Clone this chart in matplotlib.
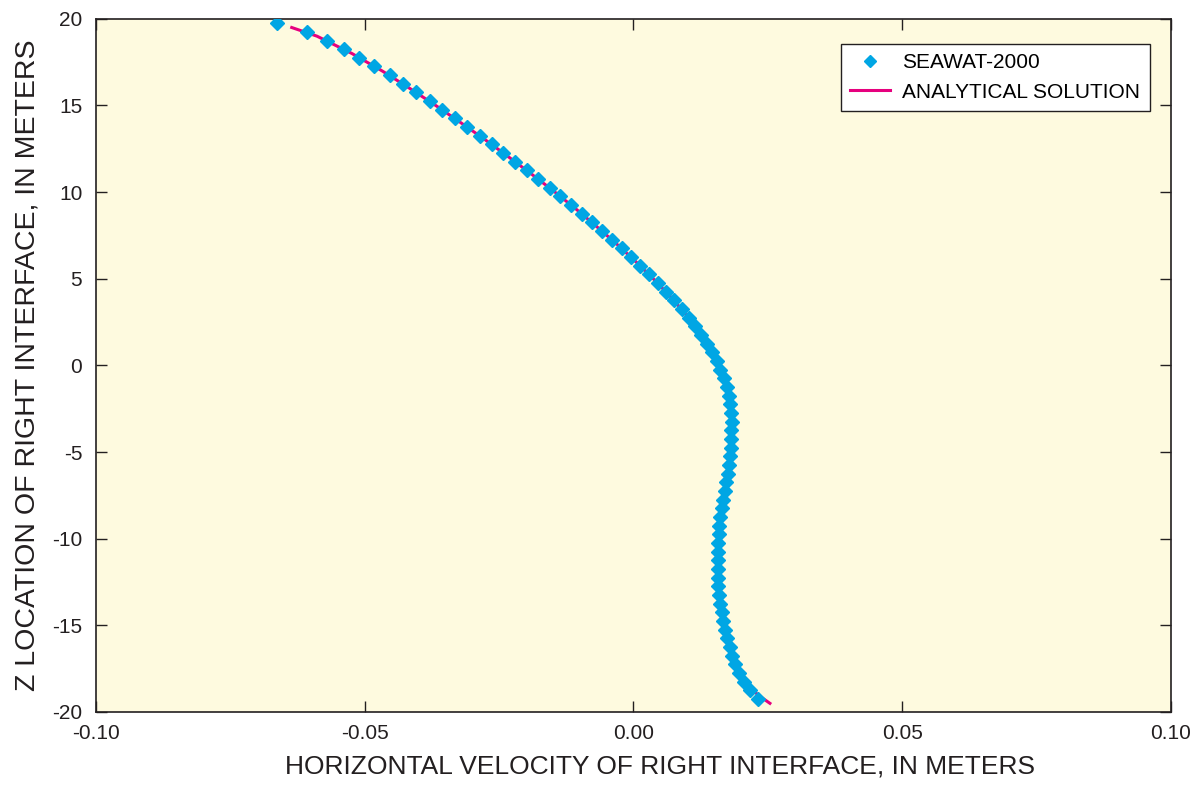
import matplotlib
matplotlib.use("Agg")
import matplotlib.pyplot as plt

plt.rcParams["font.family"] = ["Liberation Sans", "DejaVu Sans"]
plt.rcParams["axes.unicode_minus"] = False

# SEAWAT-2000 simulated velocities (points)
seawat_z = [19.75, 19.25, 18.75, 18.25, 17.75, 17.25, 16.75, 16.25, 15.75, 15.25,
            14.75, 14.25, 13.75, 13.25, 12.75, 12.25, 11.75, 11.25, 10.75, 10.25,
            9.75, 9.25, 8.75, 8.25, 7.75, 7.25, 6.75, 6.25, 5.75, 5.25,
            4.75, 4.25, 3.75, 3.25, 2.75, 2.25, 1.75, 1.25, 0.75, 0.25,
            -0.25, -0.75, -1.25, -1.75, -2.25, -2.75, -3.25, -3.75, -4.25, -4.75,
            -5.25, -5.75, -6.25, -6.75, -7.25, -7.75, -8.25, -8.75, -9.25, -9.75,
            -10.25, -10.75, -11.25, -11.75, -12.25, -12.75, -13.25, -13.75, -14.25, -14.75,
            -15.25, -15.75, -16.25, -16.75, -17.25, -17.75, -18.25, -18.75, -19.25]
seawat_v = [-0.0664, -0.0608, -0.0570, -0.0538, -0.0510, -0.0482, -0.0454, -0.0429, -0.0405, -0.0379,
            -0.0356, -0.0333, -0.0309, -0.0286, -0.0263, -0.0242, -0.0220, -0.0199, -0.0177, -0.0156,
            -0.0136, -0.0116, -0.0096, -0.0077, -0.0058, -0.0040, -0.0022, -0.0004, 0.0012, 0.0029,
            0.0045, 0.0060, 0.0075, 0.0090, 0.0103, 0.0114, 0.0126, 0.0137, 0.0147, 0.0155,
            0.0162, 0.0169, 0.0174, 0.0177, 0.0180, 0.0182, 0.0183, 0.0182, 0.0182, 0.0181,
            0.0179, 0.0177, 0.0176, 0.0173, 0.0170, 0.0167, 0.0164, 0.0162, 0.0160, 0.0159,
            0.0158, 0.0157, 0.0157, 0.0157, 0.0157, 0.0158, 0.0160, 0.0162, 0.0164, 0.0167,
            0.0170, 0.0174, 0.0179, 0.0184, 0.0189, 0.0196, 0.0205, 0.0217, 0.0232]

# analytical solution (line)
analytic_z = [19.5, 19, 18, 17, 16, 15, 14, 13, 12, 11, 10, 9, 8, 7, 6, 5, 4, 3, 2, 1, 0,
              -1, -2, -3, -4, -5, -6, -7, -8, -9, -10, -11, -12, -13, -14, -15, -16, -17,
              -17.5, -18, -18.5, -19, -19.5]
analytic_v = [-0.0636, -0.0589, -0.0524, -0.0468, -0.0417, -0.0368, -0.0321, -0.0275, -0.0231,
              -0.0188, -0.0146, -0.0106, -0.0068, -0.0031, 0.0004, 0.0037, 0.0068, 0.0096,
              0.0120, 0.0142, 0.0159, 0.0172, 0.0179, 0.0183, 0.0182, 0.0180, 0.0177, 0.0172,
              0.0166, 0.0161, 0.0159, 0.0157, 0.0157, 0.0160, 0.0164, 0.0170, 0.0179, 0.0190,
              0.0197, 0.0205, 0.0216, 0.0231, 0.0254]

x_ticks = [-0.10, -0.05, 0.00, 0.05, 0.10]
y_ticks = [-20, -15, -10, -5, 0, 5, 10, 15, 20]

fig = plt.figure(figsize=(12.02, 7.85), dpi=100)
ax = fig.add_axes([0.080, 0.093, 0.894, 0.883])
ax.set_facecolor("#fefadf")

ax.plot(analytic_v, analytic_z, color="#e6007e", lw=2.2, label="ANALYTICAL SOLUTION", zorder=2)
ax.plot(seawat_v, seawat_z, linestyle="none", marker="D", ms=7.2, color="#00a6e4",
        mec="#00a6e4", label="SEAWAT-2000", zorder=3)

ax.set_xlim(-0.10, 0.10)
ax.set_ylim(-20, 20)
ax.set_xticks(x_ticks)
ax.set_xticklabels([f"{t:.2f}" for t in x_ticks])
ax.set_yticks(y_ticks)
ax.tick_params(direction="in", length=8, width=1, top=True, right=True,
               labelsize=15, colors="#231f20")
ax.tick_params(axis="x", pad=9)
ax.tick_params(axis="y", pad=10)
for s in ax.spines.values():
    s.set_linewidth(1.2)
    s.set_color("#231f20")

ax.set_xlabel("HORIZONTAL VELOCITY OF RIGHT INTERFACE, IN METERS", fontsize=19,
              color="#231f20", labelpad=6)
ax.xaxis.set_label_coords(0.525, -0.062, transform=ax.transAxes)
ax.set_ylabel("Z LOCATION OF RIGHT INTERFACE, IN METERS", fontsize=20.5,
              color="#231f20", labelpad=8)

handles, labels = ax.get_legend_handles_labels()
leg = ax.legend(handles[::-1], labels[::-1], loc="upper right", bbox_to_anchor=(0.9805, 0.964),
                borderaxespad=0, fontsize=15, frameon=True, fancybox=False,
                edgecolor="#231f20", facecolor="white", framealpha=1, handlelength=1.9,
                handletextpad=0.6, borderpad=0.45, labelspacing=0.5, markerscale=0.8)
leg.get_frame().set_linewidth(1.0)

fig.savefig("out.png", dpi=100)
